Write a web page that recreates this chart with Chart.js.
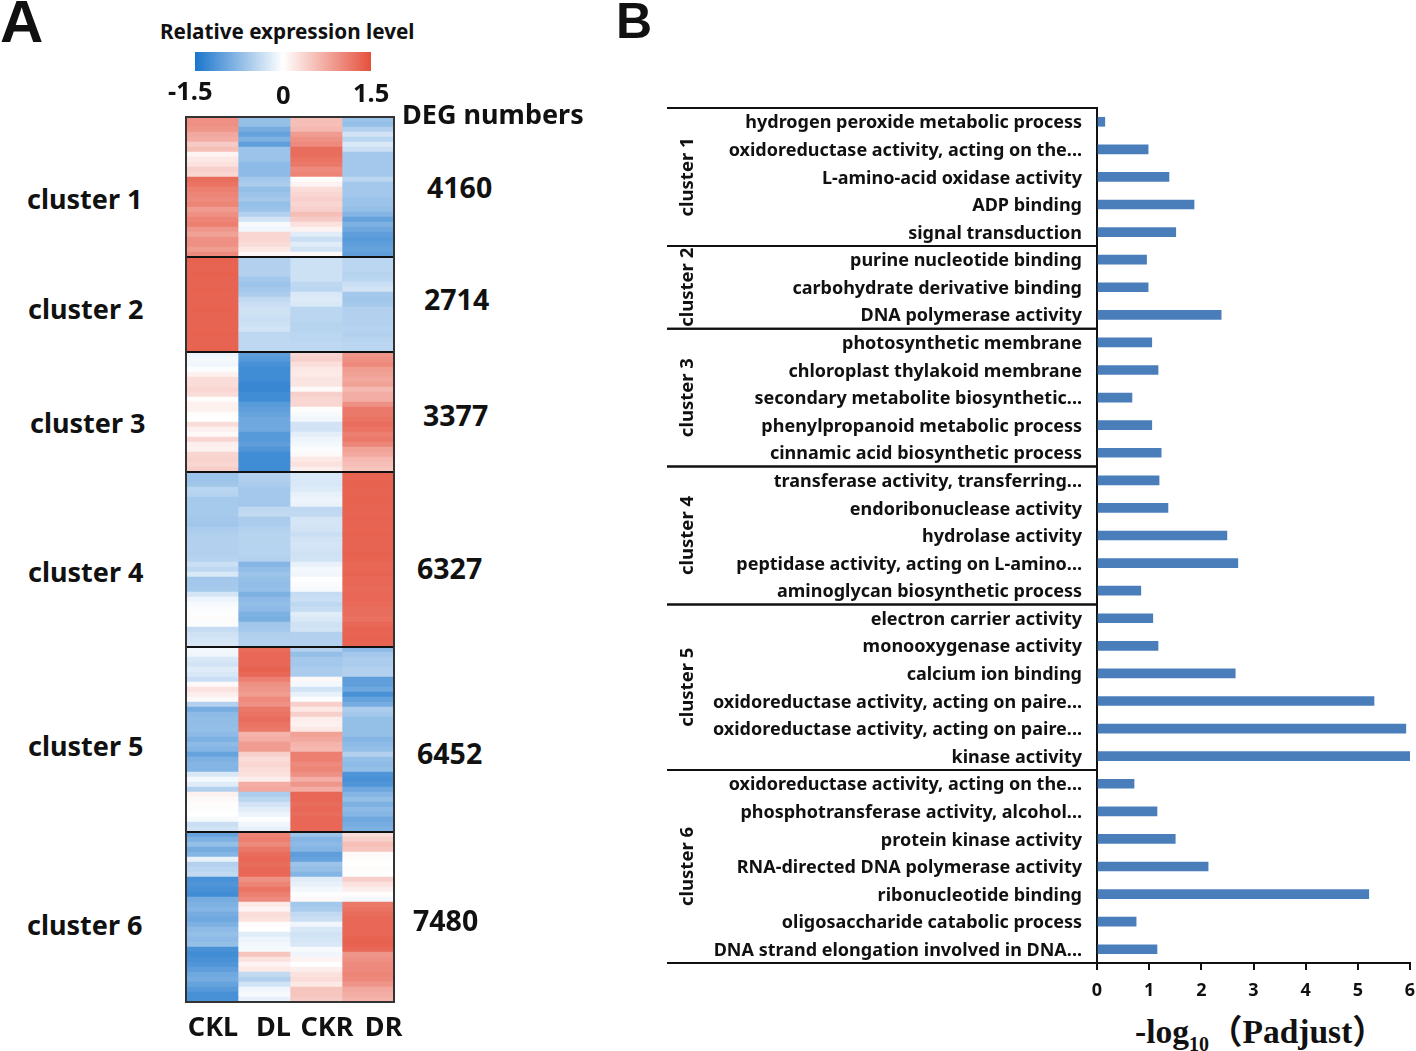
<!DOCTYPE html>
<html>
<head>
<meta charset="utf-8">
<title>DEG clusters</title>
<script src="https://cdn.jsdelivr.net/npm/chart.js@4/dist/chart.umd.min.js"></script>
<style>
  html, body { margin: 0; padding: 0; background: #fff; }
  #page { position: relative; width: 1416px; height: 1051px; overflow: hidden; font-family: "Noto Sans", sans-serif; color: #111; }
  #page canvas { position: absolute; }
  .txt { position: absolute; white-space: nowrap; font-weight: 700; line-height: 1; transform: translateY(-50%); }
  #colorbar { position: absolute; left: 195px; top: 52px; width: 176px; height: 19px;
    background: linear-gradient(to right, #1a75cc, #ffffff 50%, #e5503c); }
</style>
</head>
<body>
<div id="page">
  <canvas id="heatChart" width="240" height="940" style="left:176px;top:107px"></canvas>
  <canvas id="barChart" width="756" height="900" style="left:660px;top:100px"></canvas>
  <div id="colorbar"></div>
  <div id="labels"></div>
</div>
<script>
// heatmap values, one entry per row, one line per cluster
const heatCols = ["CKL", "DL", "CKR", "DR"];
const heatColTicks = [0.52, 1.68, 2.71, 3.80];
const clusterNames = ["cluster 1", "cluster 2", "cluster 3", "cluster 4", "cluster 5", "cluster 6"];
const clusterRows = [28, 19, 24, 35, 37, 34];
const degNumbers = ["4160", "2714", "3377", "6327", "6452", "7480"];

const ckl = [
  .95,.95,.9,.75,.7,.45,.55,.1,.2,.25,.4,.35,1.25,1.2,1.1,1.05,1,1.05,.85,.95,1.05,1.1,.9,.8,.95,.95,.85,1,
  1.35,1.33,1.33,1.35,1.33,1.33,1.35,1.33,1.33,1.33,1.35,1.33,1.33,1.33,1.33,1.35,1.33,1.33,1.35,
  -.12,-.08,-.1,-.02,.12,.3,.3,.35,.3,.02,.12,.12,.02,0,.3,.12,.06,.35,.15,.12,.35,.38,.35,.42,
  -.65,-.65,-.62,-.45,-.48,-.58,-.58,-.58,-.58,-.6,-.62,-.55,-.52,-.5,-.5,-.5,-.5,-.48,-.35,-.42,-.25,-.6,-.6,-.58,-.28,-.12,-.05,-.03,-.02,.03,-.03,-.38,-.32,-.28,-.26,
  -.08,-.1,-.25,-.3,-.2,-.25,-.35,.05,.25,.15,.05,-.5,-.9,-.75,-.72,-.72,-.7,-.75,-.85,-.75,-.8,-1,-.85,-.8,-.8,-.25,-.08,-.2,-.5,.12,.05,.02,-.02,0,-.05,-.35,-.3,
  -1,-.85,-.7,-.9,-.8,-.15,-.5,-.45,-.4,-1.2,-1.15,-1.2,-1.25,-.9,-.85,-.8,-.9,-.95,-.85,-.75,-.7,-.75,-.7,-1.2,-1.25,-1.2,-1.15,-1.05,-.95,-.9,-1,-1.1,-1.2,-1.2
];
const dl = [
  -.7,-.7,-.9,-1,-.85,-1.05,-.65,-.65,-.65,-.75,-.75,-.75,-.6,-.55,-.7,-.65,-.6,-.7,-.65,-.5,-.3,-.05,-.1,.35,.35,.3,.2,.05,
  -.5,-.5,-.5,-.5,-.6,-.65,-.6,-.55,-.4,-.35,-.32,-.32,-.35,-.33,-.3,-.42,-.42,-.42,-.42,
  -1.05,-1.1,-1.2,-1.25,-1.25,-1.25,-1.3,-1.3,-1.25,-1.25,-1.1,-1.05,-1,-.95,-.95,-.95,-1.1,-1.1,-1.05,-1.15,-1.25,-1.25,-1.25,-1.25,
  -.5,-.52,-.55,-.6,-.6,-.6,-.6,-.42,-.4,-.55,-.55,-.5,-.48,-.47,-.47,-.48,-.48,-.5,-.8,-.72,-.65,-.7,-.72,-.7,-.85,-.75,-.72,-.75,-.85,-.88,-.62,-.6,-.52,-.5,-.5,
  1.25,1.3,1.3,1.3,1.35,1.3,1.1,.95,.9,.85,1,.95,1.15,1.2,1.25,1.2,1.15,.65,.7,.85,.85,.4,.3,.35,.3,.25,.15,.7,.75,-.55,-.45,-.3,-.2,-.12,-.02,-.1,-.15,
  1.05,1.1,1,1.15,1.25,1.3,1.25,1.3,1.3,.95,1.05,1.2,1.1,1,.2,.1,.3,.25,.02,0,-.2,-.12,-.08,-.05,.5,.25,.1,.2,-.4,-.5,-.3,-.1,-.05,-.15
];
const ckr = [
  .55,.55,.6,.85,.95,1,1.25,1.25,1.2,1.15,1,1.05,.02,.1,.3,.35,.4,.35,.4,.55,.45,.25,.1,-.2,-.35,-.2,-.3,.05,
  -.33,-.33,-.33,-.33,-.33,-.42,-.45,-.25,-.22,-.25,-.45,-.45,-.45,-.47,-.47,-.45,-.45,-.42,-.42,
  .35,.4,.28,.2,.18,.22,.22,.05,.4,.35,.35,.02,-.05,-.1,-.3,-.3,-.18,-.12,-.08,-.03,.05,.2,.25,.15,
  -.25,-.25,-.25,-.22,-.15,-.12,-.14,-.42,-.4,-.28,-.28,-.3,-.35,-.3,-.28,-.3,-.32,-.3,-.15,-.08,-.1,0,-.03,-.05,-.38,-.35,-.42,-.38,-.2,-.25,-.32,-.3,-.5,-.5,-.5,
  -.5,-.7,-.6,-.6,-.55,-.55,.05,-.08,-.3,-.15,-.02,.4,.2,.4,.15,.12,.2,.8,.75,.65,.6,1.1,1.1,1,1.05,.95,.7,.9,.7,1.3,1.3,1.25,1.3,1.25,1.3,1.3,1.3,
  -.65,-.8,-.75,-.8,-1.05,-1,-.65,-.7,-.8,-.2,-.15,-.08,-.02,.05,-.6,-.55,-.4,-.35,-.1,-.25,-.3,-.28,-.25,-.05,-.1,.1,0,.15,.25,.3,.2,.5,.5,.45
];
const dr = [
  -.65,-.7,-.5,-.3,-.45,-.25,-.35,-.6,-.6,-.6,-.6,-.6,-.45,-.6,-.6,-.6,-.65,-.65,-.7,-.8,-1,-.85,-.95,-1.05,-1.1,-1.05,-1,-1.05,
  -.45,-.45,-.45,-.47,-.45,-.35,-.3,-.6,-.62,-.58,-.5,-.5,-.5,-.5,-.48,-.5,-.48,-.45,-.45,
  .9,.95,1,.85,.8,.75,.8,.6,.7,.7,.95,1.15,1.15,1.2,1.25,1.2,1.1,1.15,1.05,.8,.75,.6,.55,.5,
  1.33,1.33,1.35,1.33,1.33,1.35,1.33,1.33,1.33,1.35,1.33,1.33,1.35,1.33,1.33,1.33,1.35,1.33,1.3,1.3,1.33,1.3,1.3,1.28,1.3,1.3,1.28,1.25,1.25,1.22,1.3,1.33,1.33,1.35,1.33,
  -.75,-.6,-.55,-.55,-.5,-.5,-1.05,-1.05,-.95,-1.2,-1,-.9,-.55,-.6,-.7,-.7,-.7,-.7,-.8,-.75,-.7,-.5,-.7,-.75,-.7,-1.15,-1.2,-1.15,-.95,-.8,-.7,-.85,-.75,-.8,-.95,-.9,-.85,
  .3,.4,.55,.5,.05,.02,0,.03,0,.4,.25,.15,.02,-.08,1.15,1.2,1.25,1.3,1.3,1.3,1.3,1.35,1.35,1.3,.9,.95,1,1,1.05,1,.9,.75,.7,.65
];

// GO terms and -log10(Padjust)
const terms = [
  "hydrogen peroxide metabolic process", "oxidoreductase activity, acting on the...", "L-amino-acid oxidase activity", "ADP binding", "signal transduction",
  "purine nucleotide binding", "carbohydrate derivative binding", "DNA polymerase activity",
  "photosynthetic membrane", "chloroplast thylakoid membrane", "secondary metabolite biosynthetic...", "phenylpropanoid metabolic process", "cinnamic acid biosynthetic process",
  "transferase activity, transferring...", "endoribonuclease activity", "hydrolase activity", "peptidase activity, acting on L-amino...", "aminoglycan biosynthetic process",
  "electron carrier activity", "monooxygenase activity", "calcium ion binding", "oxidoreductase activity, acting on paire...", "oxidoreductase activity, acting on paire...", "kinase activity",
  "oxidoreductase activity, acting on the...", "phosphotransferase activity, alcohol...", "protein kinase activity", "RNA-directed DNA polymerase activity", "ribonucleotide binding", "oligosaccharide catabolic process", "DNA strand elongation involved in DNA..."
];
const padjust = [
  0.15, 0.98, 1.38, 1.86, 1.51,
  0.95, 0.98, 2.38,
  1.05, 1.17, 0.67, 1.05, 1.23,
  1.19, 1.36, 2.49, 2.70, 0.84,
  1.07, 1.17, 2.65, 5.31, 5.92, 6.00,
  0.71, 1.15, 1.50, 2.13, 5.21, 0.75, 1.15
];
const termsPerCluster = [5, 3, 5, 5, 6, 7];

function heatColor(v) {
  const end = v < 0 ? [26, 117, 204] : [229, 80, 60];
  const t = Math.min(Math.abs(v) / 1.5, 1);
  const c = end.map(e => Math.round(255 + (e - 255) * t));
  return "rgb(" + c.join(",") + ")";
}

const heatSeries = [ckl, dl, ckr, dr];
const rowLabels = ckl.map((v, i) => "row " + (i + 1));

const heatLines = {
  id: "heatLines",
  afterDatasetsDraw(chart) {
    const { ctx, chartArea, scales } = chart;
    ctx.save();
    ctx.strokeStyle = "#111";
    ctx.lineWidth = 2;
    let n = 0;
    clusterRows.slice(0, -1).forEach(r => {
      n += r;
      const y = scales.y.getPixelForValue(n - 0.5);
      ctx.beginPath();
      ctx.moveTo(chartArea.left, y);
      ctx.lineTo(chartArea.right, y);
      ctx.stroke();
    });
    ctx.strokeStyle = "#333";
    ctx.strokeRect(chartArea.left, chartArea.top, chartArea.right - chartArea.left, chartArea.bottom - chartArea.top);
    ctx.restore();
  }
};

new Chart(document.getElementById("heatChart"), {
  type: "bar",
  plugins: [heatLines],
  data: {
    labels: rowLabels,
    datasets: heatSeries.map((vals, i) => ({
      label: heatCols[i],
      data: vals.map(() => 1),
      backgroundColor: vals.map(heatColor),
      borderWidth: 0,
      barPercentage: 1,
      categoryPercentage: 1
    }))
  },
  options: {
    indexAxis: "y",
    responsive: false,
    animation: false,
    devicePixelRatio: 1,
    layout: { padding: { left: 10, right: 22, top: 10, bottom: 0 } },
    plugins: { legend: { display: false }, tooltip: { enabled: false } },
    scales: {
      y: { stacked: true, display: false },
      x: {
        type: "linear", stacked: true, min: 0, max: 4,
        afterBuildTicks: s => { s.ticks = heatColTicks.map(v => ({ value: v })); },
        afterFit: s => { s.height = 45; },
        grid: { display: false },
        border: { display: false },
        ticks: {
          autoSkip: false, maxRotation: 0, padding: 2, color: "#111",
          font: { family: "Noto Sans", size: 27, weight: 700 },
          callback: (v, i) => heatCols[i]
        }
      }
    }
  }
});

const barDecor = {
  id: "barDecor",
  beforeDraw(chart) {
    // term labels sit a little below the bar centre in the figure
    chart.scales.y.getLabelItems().forEach(item => { item.options.translation[1] += 1.5; });
  },
  afterDraw(chart) {
    const { ctx, scales } = chart;
    const y = scales.y, left = 7, axisX = scales.x.getPixelForValue(0);
    ctx.save();
    ctx.strokeStyle = "#111";
    ctx.fillStyle = "#111";
    ctx.lineWidth = 2;
    ctx.font = "700 18.5px 'Noto Sans'";
    ctx.textAlign = "center";
    ctx.textBaseline = "middle";
    let n = 0;
    termsPerCluster.forEach((count, i) => {
      const top = y.getPixelForValue(n - 0.5);
      const bottom = y.getPixelForValue(n + count - 0.5);
      [top, bottom].forEach(p => {
        ctx.beginPath();
        ctx.moveTo(left, p);
        ctx.lineTo(axisX, p);
        ctx.stroke();
      });
      ctx.save();
      ctx.translate(28, (top + bottom) / 2);
      ctx.rotate(-Math.PI / 2);
      ctx.fillText(clusterNames[i], 0, 0);
      ctx.restore();
      n += count;
    });
    ctx.restore();
  }
};

new Chart(document.getElementById("barChart"), {
  type: "bar",
  plugins: [barDecor],
  data: {
    labels: terms,
    datasets: [{
      data: padjust,
      backgroundColor: "#4a7ebb",
      barThickness: 9
    }]
  },
  options: {
    indexAxis: "y",
    responsive: false,
    animation: false,
    devicePixelRatio: 1,
    layout: { padding: { left: 0, right: 6, top: 8, bottom: 0 } },
    plugins: { legend: { display: false }, tooltip: { enabled: false } },
    scales: {
      y: {
        afterFit: s => { s.width = 437; s.paddingTop = 0; s.paddingBottom = 0; },
        grid: { display: false },
        border: { color: "#111", width: 2 },
        ticks: {
          autoSkip: false, padding: 7, color: "#111",
          font: { family: "Noto Sans", size: 18, weight: 700 }
        }
      },
      x: {
        min: 0, max: 6,
        afterFit: s => { s.height = 37; s.paddingLeft = 0; s.paddingRight = 0; },
        grid: { drawOnChartArea: false, color: "#111", lineWidth: 2, tickLength: 7 },
        border: { color: "#111", width: 2 },
        ticks: {
          stepSize: 1, padding: 10, color: "#111", maxRotation: 0,
          font: { family: "Noto Sans", size: 18, weight: 700 }
        }
      }
    }
  }
});

// text around the charts
const labelBox = document.getElementById("labels");
function addText(text, x, y, size, extra) {
  const d = document.createElement("div");
  d.className = "txt";
  d.style.left = x + "px";
  d.style.top = y + "px";
  d.style.fontSize = size + "px";
  if (extra) Object.assign(d.style, extra);
  d.innerHTML = text;
  labelBox.appendChild(d);
}
const clusterLabelPos = [[27, 198], [28, 308], [30, 422], [28, 571], [28, 745], [27, 924]];
const degLabelPos = [[427, 187], [424, 299], [423, 415], [417, 568], [417, 753], [413, 920]];
clusterNames.forEach((name, i) => addText(name, clusterLabelPos[i][0], clusterLabelPos[i][1], 27));
degNumbers.forEach((num, i) => addText(num, degLabelPos[i][0], degLabelPos[i][1], 28.5));
addText("A", 0, 22, 60, { fontFamily: "Liberation Sans" });
addText("B", 616, 21, 50, { fontFamily: "Liberation Sans" });
addText("Relative expression level", 160, 31, 20.7);
addText("-1.5", 168, 91, 25.5);
addText("0", 276, 95, 25.5);
addText("1.5", 353, 93, 25.5);
addText("DEG numbers", 402, 113, 27);
addText("-log<sub style='font-size:20px;line-height:0'>10</sub>（Padjust）", 1135, 1032, 33.5,
  { fontFamily: "'Liberation Serif', 'Noto Sans CJK SC', serif" });
</script>
</body>
</html>
